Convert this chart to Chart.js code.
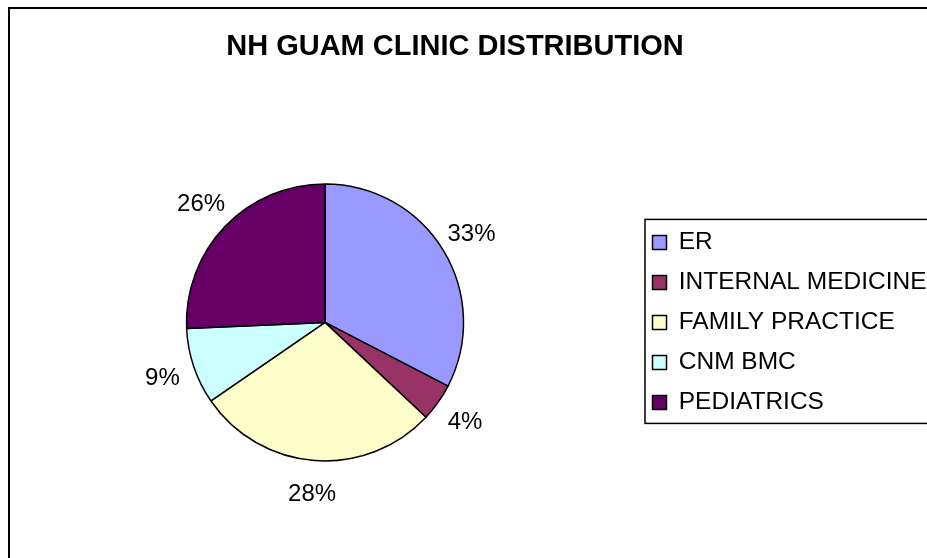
<!DOCTYPE html>
<html>
<head>
<meta charset="utf-8">
<script src="https://cdn.jsdelivr.net/npm/chart.js@4"></script>
<style>
  html, body { margin: 0; padding: 0; background: #fff; }
  canvas { display: block; }
</style>
</head>
<body>
<canvas id="clinicChart" width="927" height="558"></canvas>
<script>
// Dati del grafico
const clinics = ['ER', 'INTERNAL MEDICINE', 'FAMILY PRACTICE', 'CNM BMC', 'PEDIATRICS'];
const shares = [32.6, 4.4, 28.4, 8.9, 25.7];
const sliceColors = ['#9999FF', '#993366', '#FFFFCC', '#CCFFFF', '#660066'];
const chartTitle = 'NH GUAM CLINIC DISTRIBUTION';

const FONT = "'Liberation Sans', Arial, sans-serif";

// bordo esterno del grafico (destra e sotto fuori dalla pagina)
const outerBorder = {
    id: 'outerBorder',
    beforeDraw(chart) {
        const ctx = chart.ctx;
        ctx.save();
        ctx.fillStyle = '#fff';
        ctx.fillRect(0, 0, chart.width, chart.height);
        ctx.strokeStyle = '#000';
        ctx.lineWidth = 2;
        ctx.strokeRect(9, 8, chart.width + 10, chart.height + 10);
        ctx.restore();
    }
};

// il titolo è centrato sull'area del grafico senza il margine destro
const titleSpan = {
    id: 'titleSpan',
    afterLayout(chart) {
        chart.titleBlock.right = chart.width - 30;
    }
};

// cornice attorno alla legenda
const legendFrame = {
    id: 'legendFrame',
    afterDraw(chart) {
        const lg = chart.legend;
        const mid = (lg.top + lg.bottom) / 2;
        const ctx = chart.ctx;
        ctx.save();
        ctx.strokeStyle = '#000';
        ctx.lineWidth = 1.5;
        ctx.strokeRect(lg.left + 8, mid - 103, chart.width, 204);
        ctx.restore();
    }
};

// percentuali fuori dalle fette
const pctLabels = {
    id: 'pctLabels',
    afterDatasetsDraw(chart) {
        const ctx = chart.ctx;
        const meta = chart.getDatasetMeta(0);
        const total = shares.reduce((a, b) => a + b, 0);
        ctx.save();
        ctx.font = '24px ' + FONT;
        ctx.fillStyle = '#000';
        ctx.textAlign = 'center';
        ctx.textBaseline = 'middle';
        meta.data.forEach((arc, i) => {
            const p = arc.getProps(['x', 'y', 'startAngle', 'endAngle', 'outerRadius'], true);
            const mid = (p.startAngle + p.endAngle) / 2;
            const r = p.outerRadius + 33;
            const txt = Math.round(shares[i] / total * 100) + '%';
            ctx.fillText(txt, p.x + Math.cos(mid) * r, p.y + Math.sin(mid) * r + 1);
        });
        ctx.restore();
    }
};

const ctx = document.getElementById('clinicChart').getContext('2d');

const clinicChart = new Chart(ctx, {
    type: 'pie',
    data: {
        labels: clinics,
        datasets: [{
            data: shares,
            backgroundColor: sliceColors,
            borderColor: '#000',
            borderWidth: 1.5
        }]
    },
    options: {
        responsive: false,
        animation: false,
        radius: 138.5,
        layout: {
            padding: { left: 13, right: 0, top: 0, bottom: 0 }
        },
        plugins: {
            title: {
                display: true,
                text: chartTitle,
                color: '#000',
                font: { family: FONT, size: 29, weight: 'bold', lineHeight: 1.2 },
                padding: { top: 30, bottom: 22 }
            },
            legend: {
                position: 'right',
                fullSize: false,
                maxWidth: 290,
                labels: {
                    color: '#000',
                    font: { family: FONT, size: 24.5 },
                    boxWidth: 14,
                    boxHeight: 14,
                    padding: 15.5
                }
            },
            tooltip: { enabled: false }
        }
    },
    plugins: [outerBorder, titleSpan, pctLabels, legendFrame]
});
</script>
</body>
</html>
